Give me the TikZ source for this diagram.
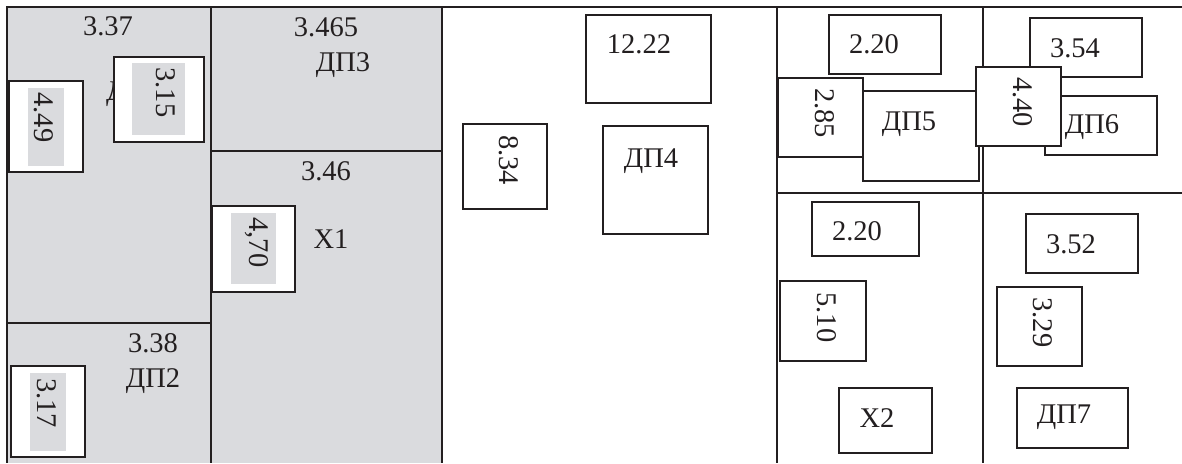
\documentclass[tikz,border=0pt]{standalone}
\usepackage{fontspec}
\setmainfont{Liberation Serif}
\definecolor{cellgray}{RGB}{218,219,222}
\definecolor{ink}{RGB}{35,31,32}
\begin{document}
\begin{tikzpicture}[x=1pt,y=-1pt,
  gridline/.style={draw=ink,line width=2.4pt},
  box/.style={draw=ink,fill=white,line width=1.6pt,inner sep=0pt,outer sep=0pt,anchor=north west},
  inbox/.style={fill=cellgray,draw=none,inner sep=0pt,outer sep=0pt,anchor=north west},
  lbl/.style={inner sep=0pt,anchor=base,text=ink,font=\fontsize{28.5}{30}\selectfont},
  vlbl/.style={inner sep=0pt,anchor=center,rotate=-90,text=ink,font=\fontsize{28.5}{30}\selectfont}]
\useasboundingbox (0,0) rectangle (1182,463);
% gray area
\fill[cellgray] (7,7) rectangle (442,463);
% grid
\coordinate (tl) at (7,7);
\coordinate (tr) at (1182,7);
\coordinate (bl) at (7,463);
\draw[gridline] (tr) -- (tl) -- (bl);
\draw[gridline] (211,7) -- (211,463);
\draw[gridline] (442,7) -- (442,463);
\draw[gridline] (7,323) -- (211,323);
\draw[gridline] (211,151) -- (442,151);
\draw[gridline] (777,7) -- (777,463);
\draw[gridline] (983,7) -- (983,463);
\draw[gridline] (777,193) -- (1182,193);
% left column top
\node[lbl] (t337) at (108,35) {3.37};
\node[lbl,anchor=base west] (tdp1) at (106,100) {ДП1};
\node[box,minimum width=74pt,minimum height=91pt] (b449) at (9,81) {};
\node[inbox,minimum width=36pt,minimum height=78pt] (g449) at (28,88) {};
\node[vlbl] (t449) at (44,117.5) {4.49};
\node[box,minimum width=90pt,minimum height=85pt] (b315) at (114,57) {};
\node[inbox,minimum width=53pt,minimum height=72pt] (g315) at (132,63) {};
\node[vlbl] (t315) at (166,92.5) {3.15};
% left column bottom
\node[lbl] (t338) at (153,352) {3.38};
\node[lbl] (tdp2) at (153,387) {ДП2};
\node[box,minimum width=74pt,minimum height=91pt] (b317) at (11,366) {};
\node[inbox,minimum width=36pt,minimum height=78pt] (g317) at (30,373) {};
\node[vlbl] (t317) at (47,403) {3.17};
% middle gray column
\node[lbl] (t3465) at (326,36) {3.465};
\node[lbl] (tdp3) at (343,71) {ДП3};
\node[lbl] (t346) at (326,180) {3.46};
\node[box,minimum width=83pt,minimum height=86pt] (b470) at (212,206) {};
\node[inbox,minimum width=45pt,minimum height=71pt] (g470) at (231,213) {};
\node[vlbl] (t470) at (257,242.5) {4,70};
\node[lbl] (tx1) at (331,248) {X1};
% white middle
\node[box,minimum width=125pt,minimum height=88pt] (b1222) at (586,15) {};
\node[lbl] (t1222) at (639,53) {12.22};
\node[box,minimum width=84pt,minimum height=85pt] (b834) at (463,124) {};
\node[vlbl] (t834) at (509,160) {8.34};
\node[box,minimum width=105pt,minimum height=108pt] (bdp4) at (603,126) {};
\node[lbl] (tdp4) at (651,167) {ДП4};
% right top
\node[box,minimum width=112pt,minimum height=59pt] (b220a) at (829,15) {};
\node[lbl] (t220a) at (874,53) {2.20};
\node[box,minimum width=112pt,minimum height=59pt] (b354) at (1030,18) {};
\node[lbl] (t354) at (1075,57) {3.54};
\node[box,minimum width=112pt,minimum height=59pt] (bdp6) at (1045,96) {};
\node[lbl] (tdp6) at (1092,133) {ДП6};
\node[box,minimum width=116pt,minimum height=90pt] (bdp5) at (863,91) {};
\node[lbl] (tdp5) at (909,130) {ДП5};
\node[box,minimum width=85pt,minimum height=79pt] (b285) at (778,78) {};
\node[vlbl] (t285) at (825,113) {2.85};
\node[box,minimum width=85pt,minimum height=79pt] (b440) at (976,67) {};
\node[vlbl] (t440) at (1023,102) {4.40};
% right bottom
\node[box,minimum width=107pt,minimum height=54pt] (b220b) at (812,202) {};
\node[lbl] (t220b) at (857,240) {2.20};
\node[box,minimum width=86pt,minimum height=80pt] (b510) at (780,281) {};
\node[vlbl] (t510) at (827,317.5) {5.10};
\node[box,minimum width=93pt,minimum height=65pt] (bx2) at (839,388) {};
\node[lbl] (tx2) at (877,427) {X2};
\node[box,minimum width=112pt,minimum height=59pt] (b352) at (1026,214) {};
\node[lbl] (t352) at (1071,253) {3.52};
\node[box,minimum width=85pt,minimum height=79pt] (b329) at (997,287) {};
\node[vlbl] (t329) at (1042.5,322.5) {3.29};
\node[box,minimum width=111pt,minimum height=60pt] (bdp7) at (1017,388) {};
\node[lbl] (tdp7) at (1064,423) {ДП7};
\end{tikzpicture}
\end{document}
